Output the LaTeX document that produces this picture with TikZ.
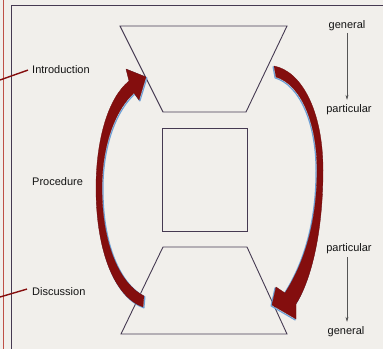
\documentclass[tikz,border=0pt]{standalone}
\usepackage{fontspec}
\setmainfont{Liberation Sans}
\usetikzlibrary{arrows.meta}
\definecolor{paper}{RGB}{241,239,235}
\definecolor{boxline}{RGB}{70,58,82}
\definecolor{darkred}{RGB}{132,14,14}
\definecolor{marginred}{RGB}{190,80,70}
\definecolor{guidegray}{RGB}{85,85,85}
\definecolor{rimblue}{RGB}{110,160,215}
\tikzset{
  lbl/.style={font=\fontsize{11}{12}\selectfont, text=black!92, inner sep=0pt},
  shapeline/.style={draw=boxline, line width=0.9pt, line join=miter},
  bigarrow/.style={fill=darkred, draw=darkred!85!black, line width=0.3pt},
  rim/.style={draw=rimblue, line width=1.2pt, line join=round},
  guide/.style={draw=guidegray, line width=0.5pt, -{Stealth[length=5pt,width=3pt]}},
  pointer/.style={draw=darkred, line width=1.4pt}
}
\begin{document}
\begin{tikzpicture}[x=1pt,y=-1pt]
\useasboundingbox (0,0) rectangle (383,349);
\fill[paper] (0,0) rectangle (383,349);
% page margin lines
\draw[marginred, line width=1pt] (3,0) -- (3,349);
\draw[boxline, line width=1pt] (11,349) -- (11,5.5) -- (383,5.5);
% top trapezoid
\draw[shapeline] (120,26) -- (287,26) -- (246,112) -- (163,112) -- cycle;
% middle square
\draw[shapeline] (162,128) rectangle (247,231);
% bottom trapezoid
\draw[shapeline] (163,247) -- (247,247) -- (287,334) -- (121,334) -- cycle;
% left curved arrow (bottom to top)
\def\leftarrowpath{(144,296) .. controls (120,284) and (102,245) .. (102,188)
  .. controls (102,142) and (117,108) .. (134,93) -- (139,100) -- (146,77)
  -- (126,69) -- (129,81) .. controls (108,98) and (96,140) .. (96,188)
  .. controls (96,252) and (115,297) .. (143,307) -- cycle}
\draw[rim, shift={(0.9,0.9)}] \leftarrowpath;
\fill[bigarrow] \leftarrowpath;
% right curved arrow (top to bottom)
\def\rightarrowpath{(274,66) .. controls (301,71) and (323,110) .. (323,170)
  .. controls (323,236) and (310,282) .. (296,304) -- (296,319) -- (272,305)
  -- (276,287) -- (285,293) .. controls (303,265) and (317,225) .. (317,170)
  .. controls (317,121) and (300,84) .. (276,77) -- cycle}
\draw[rim, shift={(-0.9,0.9)}] \rightarrowpath;
\fill[bigarrow] \rightarrowpath;
% left labels
\node[lbl, anchor=base west] (intro) at (32,73) {Introduction};
\node[lbl, anchor=base west] (proc) at (32,185) {Procedure};
\node[lbl, anchor=base west] (disc) at (32,295) {Discussion};
\coordinate (introend) at (0,80);
\coordinate (discend) at (0,297);
\draw[pointer] (introend) -- ([xshift=-4pt,yshift=-1pt]intro.west);
\draw[pointer] (discend) -- ([xshift=-5pt,yshift=2pt]disc.west);
% right labels
\node[lbl, anchor=base] (gen1) at (347,28) {general};
\node[lbl, anchor=base] (part1) at (349,112) {particular};
\node[lbl, anchor=base] (part2) at (349,251) {particular};
\node[lbl, anchor=base] (gen2) at (346,334) {general};
\draw[guide, shorten <=2.5pt, shorten >=4pt] (gen1.south -| 347,0) -- (part1.north -| 347,0);
\draw[guide, shorten <=4pt, shorten >=4pt] (part2.south -| 347,0) -- (gen2.north -| 347,0);
\end{tikzpicture}
\end{document}
